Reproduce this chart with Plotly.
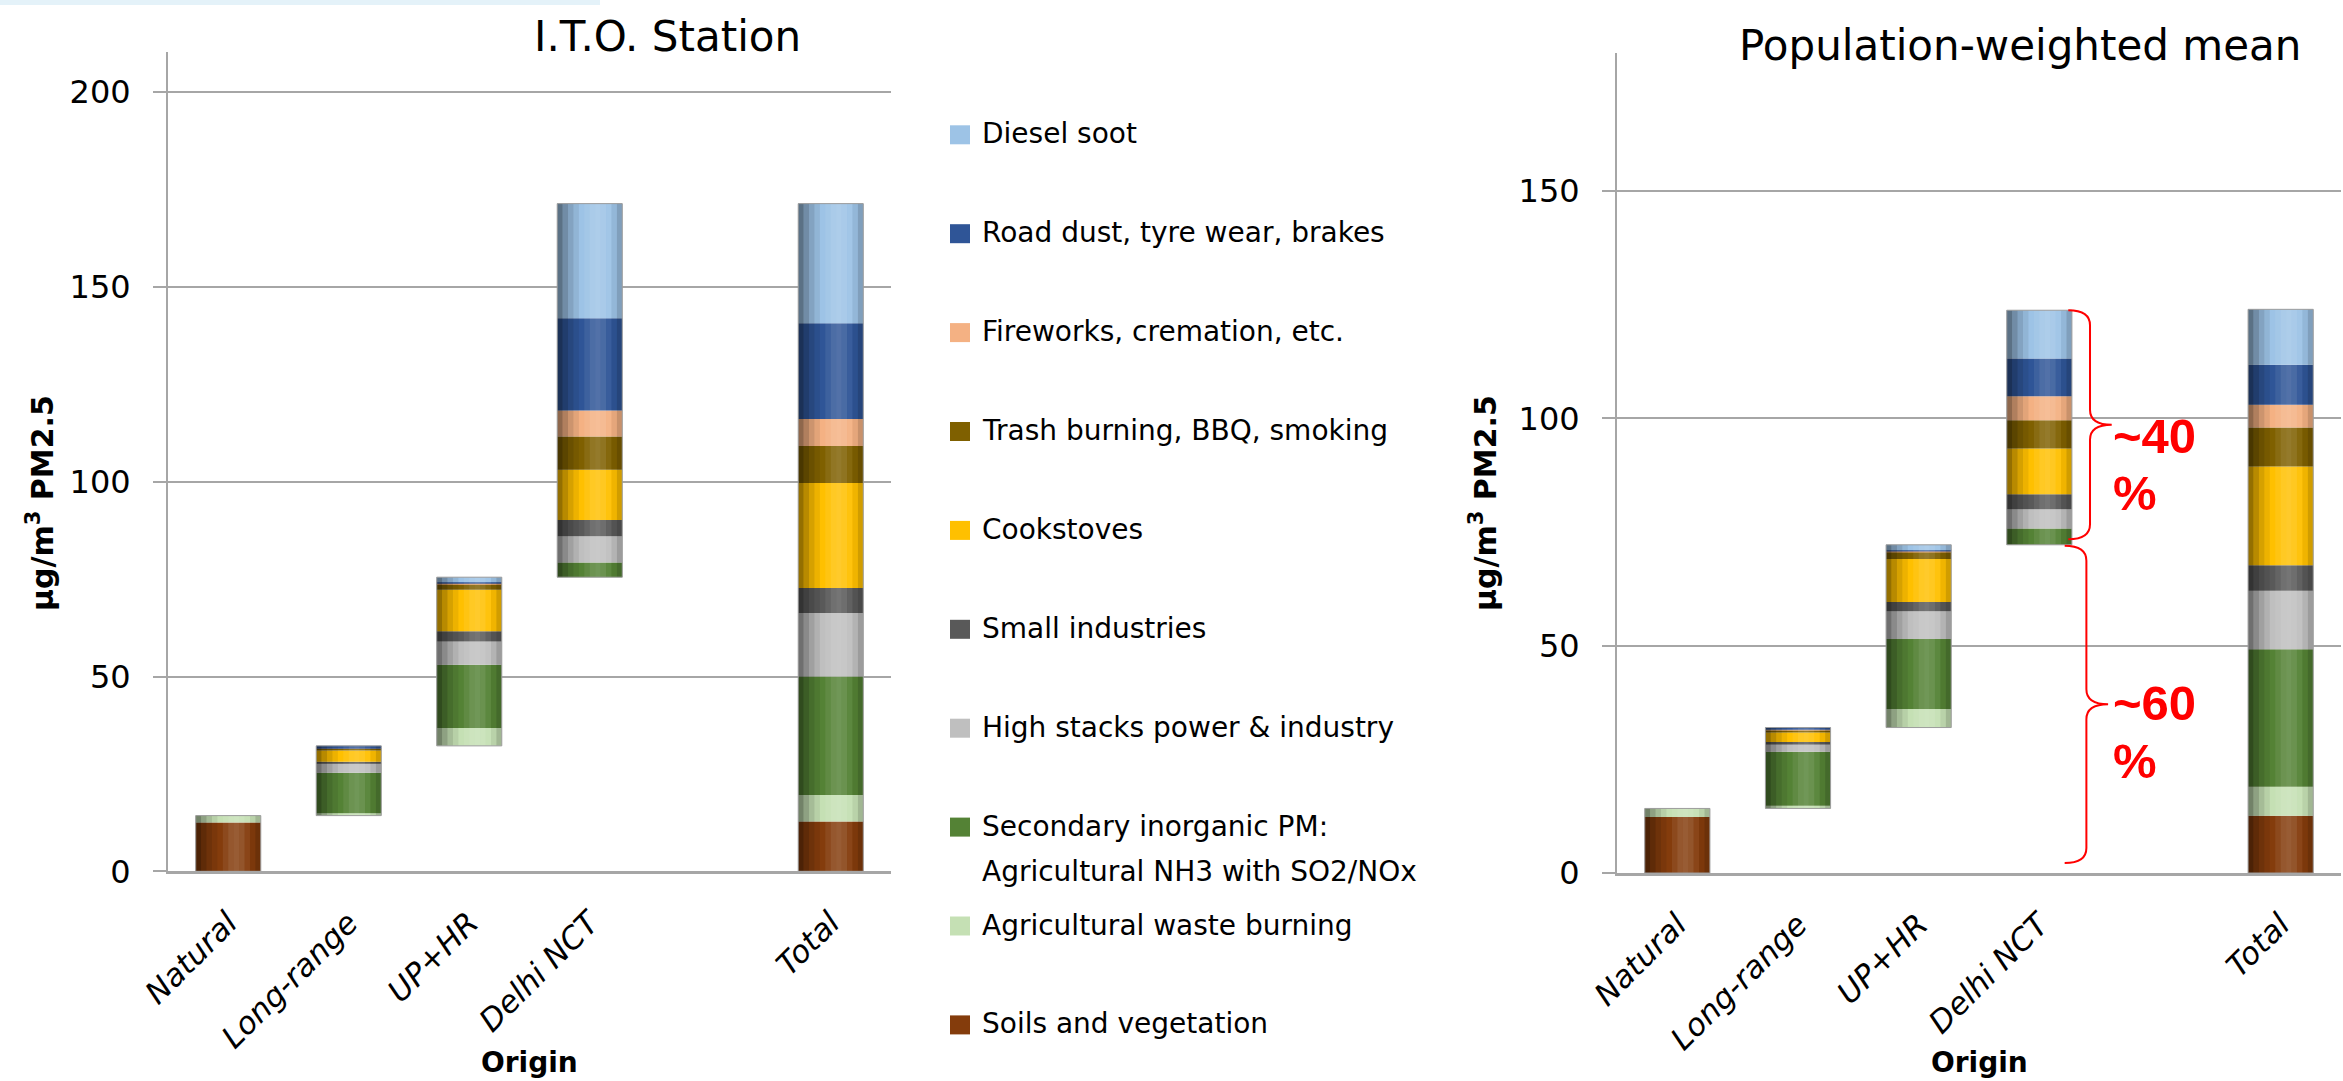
import plotly.graph_objects as go

# ---------------------------------------------------------------- data
origins = ["Natural", "Long-range", "UP+HR", "Delhi NCT", "Total"]
spacer = " "  # empty slot between the regional bars and the total
axis_categories = ["Natural", "Long-range", "UP+HR", "Delhi NCT", spacer, "Total"]

# source sectors, listed bottom -> top of each stack
sources = [
    "Soils and vegetation",
    "Agricultural waste burning",
    "Secondary inorganic PM: Agricultural NH3 with SO2/NOx",
    "High stacks power & industry",
    "Small industries",
    "Cookstoves",
    "Trash burning, BBQ, smoking",
    "Fireworks, cremation, etc.",
    "Road dust, tyre wear, brakes",
    "Diesel soot",
]
legend_lines = {
    "Secondary inorganic PM: Agricultural NH3 with SO2/NOx":
        ["Secondary inorganic PM:", "Agricultural NH3 with SO2/NOx"],
}

colors = ["#843C0C", "#C5E0B4", "#548235", "#BFBFBF", "#595959",
          "#FFC000", "#7F6000", "#F4B183", "#2F5597", "#9DC3E6"]

# µg/m3 PM2.5 per origin (Natural, Long-range, UP+HR, Delhi NCT, Total)
ito_soils = [12.5, 0.0, 0.0, 0.0, 12.8]
ito_agburn = [1.8, 0.6, 4.6, 0.0, 6.8]
ito_sia = [0.0, 10.4, 16.2, 3.8, 30.4]
ito_stacks = [0.0, 2.5, 6.0, 6.7, 16.3]
ito_small_ind = [0.0, 0.3, 2.6, 4.2, 6.4]
ito_cookstoves = [0.0, 2.9, 10.7, 12.9, 27.0]
ito_trash = [0.0, 0.6, 1.5, 8.5, 9.5]
ito_fireworks = [0.0, 0.1, 0.2, 6.7, 6.9]
ito_road = [0.0, 0.5, 0.2, 23.7, 24.6]
ito_diesel = [0.0, 0.0, 1.3, 29.4, 30.7]

pw_soils = [12.3, 0.0, 0.0, 0.0, 12.6]
pw_agburn = [1.9, 0.6, 4.1, 0.0, 6.4]
pw_sia = [0.0, 11.9, 15.4, 3.6, 30.2]
pw_stacks = [0.0, 1.8, 6.1, 4.2, 12.9]
pw_small_ind = [0.0, 0.3, 2.0, 3.3, 5.6]
pw_cookstoves = [0.0, 2.1, 9.5, 10.1, 21.7]
pw_trash = [0.0, 0.5, 1.5, 6.2, 8.6]
pw_fireworks = [0.0, 0.1, 0.2, 5.3, 5.0]
pw_road = [0.0, 0.5, 0.2, 8.3, 8.8]
pw_diesel = [0.0, 0.0, 1.2, 10.6, 12.2]

ito_values = [ito_soils, ito_agburn, ito_sia, ito_stacks, ito_small_ind,
              ito_cookstoves, ito_trash, ito_fireworks, ito_road, ito_diesel]
pw_values = [pw_soils, pw_agburn, pw_sia, pw_stacks, pw_small_ind,
             pw_cookstoves, pw_trash, pw_fireworks, pw_road, pw_diesel]

ito_ticks = [0, 50, 100, 150, 200]
pw_ticks = [0, 50, 100, 150]
share_labels = ["~40 %", "~60 %"]

# ---------------------------------------------------------------- layout constants
W, H = 2343, 1081
FONT = "DejaVu Sans"
GRID = "#A6A6A6"
BAR_W = 0.54


def px_x(v):
    return v / W


def px_y(v):
    return 1 - v / H


def waterfall_bases(values):
    """Bar bases: each origin starts where the previous one ended, Total from 0."""
    heights = [sum(col) for col in zip(*values)]
    bases, running = [], 0.0
    for name, h in zip(origins, heights):
        if name == "Total":
            bases.append(0.0)
        else:
            bases.append(running)
            running += h
    return bases, heights


def add_panel(fig, values, xa, ya):
    bases, heights = waterfall_bases(values)
    # coloured segments
    level = list(bases)
    for name, col, vals in zip(sources, colors, values):
        fig.add_trace(go.Bar(
            x=origins, y=vals, base=list(level), width=BAR_W,
            marker=dict(color=col, line=dict(width=0)),
            name=name, xaxis=xa, yaxis=ya, showlegend=False,
            hovertemplate="%{x}<br>" + name + ": %{y}<extra></extra>",
        ))
        level = [l + v for l, v in zip(level, vals)]
    # cylinder-like shading: thin vertical strips of dark / light overlay
    profile = [-0.42, -0.28, -0.16, -0.07, 0.0, 0.07, 0.14, 0.17, 0.13, 0.05, -0.06, -0.18]
    n = len(profile)
    for i, a in enumerate(profile):
        if a == 0:
            continue
        rgba = f"rgba(0,0,0,{-a})" if a < 0 else f"rgba(255,255,255,{a})"
        fig.add_trace(go.Bar(
            x=origins, y=heights, base=bases, width=BAR_W / n,
            offset=-BAR_W / 2 + i * BAR_W / n,
            marker=dict(color=rgba, line=dict(width=0)),
            xaxis=xa, yaxis=ya, showlegend=False, hoverinfo="skip",
        ))
    # thin outline round each column
    fig.add_trace(go.Bar(
        x=origins, y=heights, base=bases, width=BAR_W,
        marker=dict(color="rgba(0,0,0,0)", line=dict(color="#9C9C9C", width=1)),
        xaxis=xa, yaxis=ya, showlegend=False, hoverinfo="skip",
    ))
    return bases, heights


fig = go.Figure()
add_panel(fig, ito_values, "x", "y")
pw_bases, pw_heights = add_panel(fig, pw_values, "x2", "y2")

xaxis_common = dict(
    type="category", categoryorder="array", categoryarray=axis_categories,
    tickmode="array", tickvals=origins, ticktext=origins,
    range=[-0.5, 5.5], showgrid=False, zeroline=False, automargin=False,
    showline=True, linecolor=GRID, linewidth=3, ticks="",
    tickangle=-45, ticklabelstandoff=18,
    tickfont=dict(family=FONT, size=31, color="black", style="italic"),
)
yaxis_common = dict(
    showgrid=True, gridcolor=GRID, gridwidth=2, zeroline=False, automargin=False,
    showline=True, linecolor=GRID, linewidth=2,
    ticks="outside", ticklen=13, tickwidth=2, tickcolor=GRID,
    ticklabelstandoff=16,
    tickfont=dict(family=FONT, size=32, color="black"),
)

fig.update_layout(
    width=W, height=H, margin=dict(l=0, r=0, t=0, b=0, autoexpand=False),
    paper_bgcolor="white", plot_bgcolor="white",
    barmode="overlay", showlegend=False,
    xaxis=dict(domain=[px_x(168), px_x(891)], anchor="y", **xaxis_common),
    yaxis=dict(domain=[px_y(871.3), px_y(51.7)], range=[0, 210.4], anchor="x",
               tickvals=ito_ticks, **yaxis_common),
    xaxis2=dict(domain=[px_x(1617), px_x(2341)], anchor="y2", **xaxis_common),
    yaxis2=dict(domain=[px_y(873), px_y(53.4)], range=[0, 180.3], anchor="x2",
                tickvals=pw_ticks, **yaxis_common),
)

annotations = []
shapes = []

# panel titles
annotations.append(dict(text="I.T.O. Station", x=px_x(667), y=px_y(37), xref="paper", yref="paper",
                        xanchor="center", yanchor="middle", showarrow=False,
                        font=dict(family=FONT, size=42, color="black")))
annotations.append(dict(text="Population-weighted mean", x=px_x(2020), y=px_y(45), xref="paper", yref="paper",
                        xanchor="center", yanchor="middle", showarrow=False,
                        font=dict(family=FONT, size=42, color="black")))

# axis titles
for xc in (40, 1483):
    annotations.append(dict(text="µg/m<sup>3</sup> PM2.5", x=px_x(xc), y=px_y(503),
                            xref="paper", yref="paper", textangle=-90,
                            xanchor="center", yanchor="middle", showarrow=False,
                            font=dict(family=FONT, size=30, color="black", weight="bold")))
for xc in (529.5, 1979):
    annotations.append(dict(text="Origin", x=px_x(xc), y=px_y(1062), xref="paper", yref="paper",
                            xanchor="center", yanchor="middle", showarrow=False,
                            font=dict(family=FONT, size=28, color="black", weight="bold")))

# legend between the panels, top entry = top of the stacks
row0, row_step, line_step = 133.8, 98.9, 45
for i, (name, col) in enumerate(zip(sources[::-1], colors[::-1])):
    yc = row0 + i * row_step
    shapes.append(dict(type="rect", xref="paper", yref="paper",
                       x0=px_x(950), x1=px_x(970), y0=px_y(yc + 10.5), y1=px_y(yc - 8.5),
                       fillcolor=col, line=dict(width=0)))
    for j, line in enumerate(legend_lines.get(name, [name])):
        annotations.append(dict(text=line, x=px_x(980), y=px_y(yc + j * line_step),
                                xref="paper", yref="paper", xanchor="left", yanchor="middle",
                                showarrow=False, font=dict(family=FONT, size=28, color="black")))

# braces splitting the population-weighted Delhi NCT column
delhi = origins.index("Delhi NCT")
d_base, d_top = pw_bases[delhi], pw_bases[delhi] + pw_heights[delhi]
r = 3.3
brace_specs = [
    (d_base + 1.2, d_top, 3.24, 3.42, 3.60),
    (2.2, d_base - 0.2, 3.21, 3.39, 3.57),
]
for lo, hi, xt, xs, xp in brace_specs:
    mid = (lo + hi) / 2
    path = (f"M {xt},{hi} Q {xs},{hi} {xs},{hi - r} L {xs},{mid + r} "
            f"Q {xs},{mid} {xp},{mid} Q {xs},{mid} {xs},{mid - r} "
            f"L {xs},{lo + r} Q {xs},{lo} {xt},{lo}")
    shapes.append(dict(type="path", xref="x2", yref="y2", path=path,
                       line=dict(color="#FF0000", width=2)))

# share labels next to the braces (number above, percent sign below)
label_rows = [(436, 493), (703, 761)]
for label, rows in zip(share_labels, label_rows):
    for part, yc in zip(label.split(" "), rows):
        annotations.append(dict(text=part, x=px_x(2111), y=px_y(yc), xref="paper", yref="paper",
                                xanchor="left", yanchor="middle", showarrow=False,
                                font=dict(family="Liberation Sans", size=49, color="#FF0000",
                                          weight="bold")))

# pale band along the top edge
shapes.append(dict(type="rect", xref="paper", yref="paper", x0=0, x1=px_x(600),
                   y0=px_y(5), y1=1, fillcolor="#E4F2F9", line=dict(width=0), layer="below"))

fig.update_layout(annotations=annotations, shapes=shapes)
fig.write_html("out.html")
